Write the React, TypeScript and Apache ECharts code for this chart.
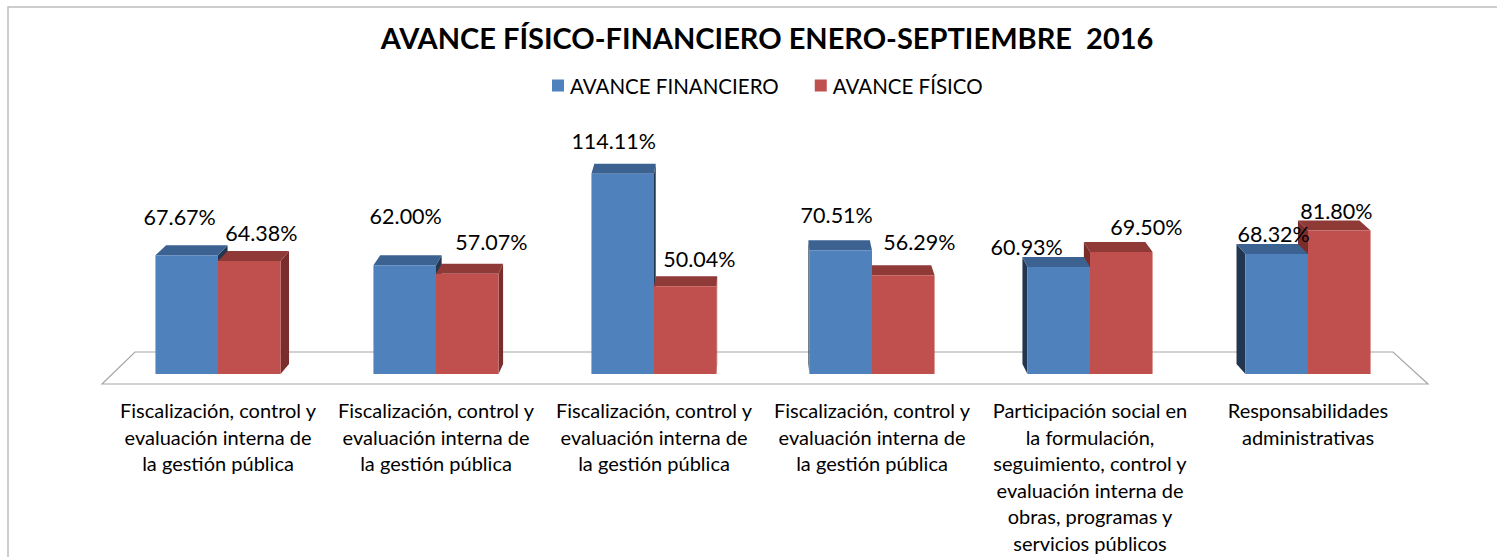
import React, { useEffect, useRef } from "react";
import * as echarts from "echarts";

const categories = [
  "Fiscalización, control y\nevaluación interna de\nla gestión pública",
  "Fiscalización, control y\nevaluación interna de\nla gestión pública",
  "Fiscalización, control y\nevaluación interna de\nla gestión pública",
  "Fiscalización, control y\nevaluación interna de\nla gestión pública",
  "Participación social en\nla formulación,\nseguimiento, control y\nevaluación interna de\nobras, programas y\nservicios públicos",
  "Responsabilidades\nadministrativas",
];
const avanceFinanciero = [67.67, 62.0, 114.11, 70.51, 60.93, 68.32];
const avanceFisico = [64.38, 57.07, 50.04, 56.29, 69.5, 81.8];
const seriesNames = ["AVANCE FINANCIERO", "AVANCE FÍSICO"];
const titleText = "AVANCE FÍSICO-FINANCIERO ENERO-SEPTIEMBRE  2016";

// label nudges (style only): [dx, dy] from the bar's front-top centre
const nudgeFin = [[-7, -38], [1, -49], [-9, -33], [-4, -35], [-32, -20], [-3, -20]];
const nudgeFis = [[12, -28], [24, -32], [14, -27], [16, -33], [25, -25], [-3, -19]];

const FONT = "Lato, 'Open Sans', sans-serif";
const VX = 750;
const K = 0.018;
const D = 10;

const palette = [
  { front: "#4F81BD", top: "#3C6291", side: "#22364F" },
  { front: "#C0504D", top: "#903A38", side: "#7A2E2C" },
];

function makeRender(si: number, nudges: number[][]) {
  const c = palette[si];
  return (params: any, api: any) => {
    const ci = api.value(0);
    const v = api.value(1);
    const base = api.coord([ci, 0]);
    const tp = api.coord([ci, v]);
    const catW = api.size([1, 0])[0];
    const bw = catW * 0.287;
    const x0 = si === 0 ? base[0] - bw : base[0];
    const x1 = x0 + bw;
    const yb = base[1];
    const yt = tp[1];
    const dx0 = (VX - x0) * K;
    const dx1 = (VX - x1) * K;
    const left = base[0] < VX;
    const zb = (si === 0) === left ? 1 : 3;
    const side = left
      ? [[x1, yt], [x1 + dx1, yt - D], [x1 + dx1, yb - D], [x1, yb]]
      : [[x0, yt], [x0 + dx0, yt - D], [x0 + dx0, yb - D], [x0, yb]];
    const n = nudges[params.dataIndex] || [0, -30];
    return {
      type: "group",
      children: [
        { type: "polygon", z2: zb, shape: { points: side }, style: { fill: c.side } },
        {
          type: "polygon",
          z2: zb,
          shape: { points: [[x0, yt], [x1, yt], [x1 + dx1, yt - D], [x0 + dx0, yt - D]] },
          style: { fill: c.top },
        },
        {
          type: "polygon",
          z2: zb,
          shape: { points: [[x0, yt], [x1, yt], [x1, yb], [x0, yb]] },
          style: { fill: c.front },
        },
        {
          type: "text",
          z2: 50,
          x: (x0 + x1) / 2 + n[0],
          y: yt + n[1],
          style: {
            text: v.toFixed(2) + "%",
            fontSize: 21.5,
            fontFamily: FONT,
            fill: "#000",
            align: "center",
            verticalAlign: "middle",
          },
        },
      ],
    };
  };
}

export default function App() {
  const ref = useRef<HTMLDivElement>(null);
  useEffect(() => {
    if (!ref.current) return;
    const chart = echarts.init(ref.current, undefined, { renderer: "svg" });
    chart.setOption({
      animation: false,
      backgroundColor: "#fff",
      title: {
        text: titleText,
        left: 762,
        textAlign: "center",
        top: 18,
        textStyle: { fontSize: 29, fontWeight: "bold", fontFamily: FONT, color: "#000" },
      },
      legend: {
        left: 547,
        top: 70,
        itemWidth: 12,
        itemHeight: 12,
        itemGap: 36,
        icon: "rect",
        data: seriesNames,
        textStyle: { fontSize: 20.5, fontFamily: FONT, color: "#000", padding: [0, 0, 0, 1] },
      },
      grid: { left: 109, right: 80, top: 163.4, bottom: 183 },
      xAxis: {
        type: "category",
        data: categories,
        axisLine: { show: false },
        axisTick: { show: false },
        axisLabel: {
          interval: 0,
          fontSize: 20,
          lineHeight: 26.5,
          fontFamily: FONT,
          color: "#000",
          margin: 23,
          verticalAlign: "top",
        },
      },
      yAxis: { type: "value", min: 0, max: 120, show: false },
      graphic: [
        {
          type: "rect",
          shape: { x: 8, y: 7, width: 1500, height: 600 },
          style: { fill: "none", stroke: "#BDBDBD", lineWidth: 1.5 },
          silent: true,
        },
        {
          type: "polygon",
          shape: { points: [[135, 352], [1393, 352], [1428, 384], [102, 384]] },
          style: { fill: "none", stroke: "#A6A6A6", lineWidth: 1.2 },
          silent: true,
        },
      ],
      series: [
        {
          type: "custom",
          name: seriesNames[0],
          itemStyle: { color: palette[0].front },
          renderItem: makeRender(0, nudgeFin),
          encode: { x: 0, y: 1 },
          data: avanceFinanciero.map((v, i) => [i, v]),
        },
        {
          type: "custom",
          name: seriesNames[1],
          itemStyle: { color: palette[1].front },
          renderItem: makeRender(1, nudgeFis),
          encode: { x: 0, y: 1 },
          data: avanceFisico.map((v, i) => [i, v]),
        },
      ],
    });
    return () => chart.dispose();
  }, []);
  return (
    <div
      ref={ref}
      style={{ position: "fixed", left: 0, top: 0, width: 1497, height: 557 }}
    />
  );
}
